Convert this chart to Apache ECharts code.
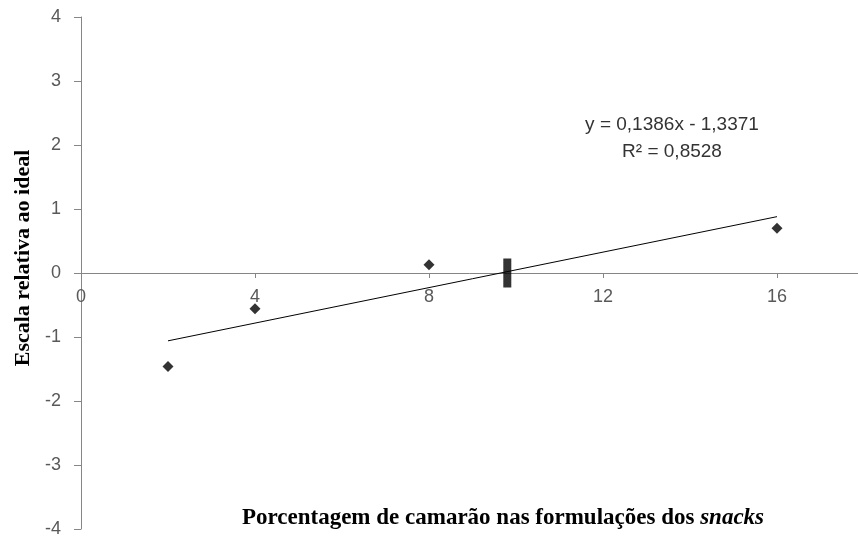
<!DOCTYPE html>
<html>
<head>
<meta charset="utf-8">
<script src="https://cdn.jsdelivr.net/npm/echarts@6/dist/echarts.min.js"></script>
<style>
  html, body { margin: 0; padding: 0; background: #fff; }
  #chart { width: 858px; height: 536px; }
</style>
</head>
<body>
<div id="chart"></div>
<script>
// Shrimp percentage in the snack formulations and the relative-to-ideal score
const shrimpPercent = [2, 4, 8, 16];
const idealScore = [-1.46, -0.56, 0.13, 0.70];

// Linear fit reported on the chart
const fitSlope = 0.1386;
const fitIntercept = -1.3371;
const fitRange = [2, 16];
const equationText = 'y = 0,1386x - 1,3371';
const r2Text = 'R² = 0,8528';

// Marker for the ideal point on the zero line
const idealMark = [[9.8, 0]];

const xTicks = { min: 0, max: 18, interval: 4 };
const yTicks = { min: -4, max: 4, interval: 1 };

const fitLine = fitRange.map(x => [x, fitSlope * x + fitIntercept]);

const axisGray = '#868686';
const labelGray = '#595959';
const sans = 'Liberation Sans';
const serif = 'Liberation Serif';

const gridTop = 17, gridBottom = 7;
const plotHeight = 536 - gridTop - gridBottom;
// distance from the bottom of the grid up to the y = 0 line
const zeroOffset = plotHeight * (0 - yTicks.min) / (yTicks.max - yTicks.min);

const chart = echarts.init(document.getElementById('chart'));
chart.setOption({
  animation: false,
  backgroundColor: '#fff',
  grid: { left: 81, top: gridTop, right: -6, bottom: gridBottom, containLabel: false, outerBoundsMode: 'none' },
  xAxis: {
    type: 'value',
    min: xTicks.min,
    max: xTicks.max,
    interval: xTicks.interval,
    position: 'bottom',
    offset: -zeroOffset,
    axisLine: { show: true, onZero: false, lineStyle: { color: axisGray, width: 1 } },
    axisTick: { show: true, inside: false, length: 5, lineStyle: { color: axisGray } },
    axisLabel: { color: labelGray, fontFamily: sans, fontSize: 18, margin: 15, showMaxLabel: false },
    splitLine: { show: false }
  },
  yAxis: {
    type: 'value',
    min: yTicks.min,
    max: yTicks.max,
    interval: yTicks.interval,
    axisLine: { show: true, onZero: false, lineStyle: { color: axisGray, width: 1 } },
    axisTick: { show: true, inside: false, length: 7, lineStyle: { color: axisGray } },
    axisLabel: { color: labelGray, fontFamily: sans, fontSize: 18, margin: 20 },
    splitLine: { show: false }
  },
  graphic: [
    {
      type: 'text',
      x: 23, y: 258,
      rotation: Math.PI / 2,
      style: {
        text: 'Escala relativa ao ideal',
        fontFamily: serif, fontWeight: 'bold', fontSize: 22,
        fill: '#000', align: 'center', verticalAlign: 'middle'
      }
    },
    {
      type: 'text',
      x: 503, y: 518,
      style: {
        text: '{a|Porcentagem de camarão nas formulações dos }{b|snacks}',
        align: 'center', verticalAlign: 'middle',
        rich: {
          a: { fontFamily: serif, fontWeight: 'bold', fontSize: 23, fill: '#000' },
          b: { fontFamily: serif, fontWeight: 'bold', fontStyle: 'italic', fontSize: 23, fill: '#000' }
        }
      }
    },
    {
      type: 'text',
      x: 672, y: 125,
      style: {
        text: equationText, fontFamily: sans, fontSize: 19, fill: '#333',
        align: 'center', verticalAlign: 'middle'
      }
    },
    {
      type: 'text',
      x: 672, y: 152,
      style: {
        text: r2Text, fontFamily: sans, fontSize: 19, fill: '#333',
        align: 'center', verticalAlign: 'middle'
      }
    }
  ],
  series: [
    {
      type: 'line',
      data: fitLine,
      symbol: 'none',
      lineStyle: { color: '#000', width: 1 },
      z: 2
    },
    {
      type: 'scatter',
      data: shrimpPercent.map((x, i) => [x, idealScore[i]]),
      symbol: 'diamond',
      symbolSize: 11,
      itemStyle: { color: '#000' },
      z: 3
    },
    {
      type: 'scatter',
      data: idealMark,
      symbol: 'rect',
      symbolSize: [8, 29],
      itemStyle: { color: '#000' },
      z: 4
    }
  ]
});
</script>
</body>
</html>
